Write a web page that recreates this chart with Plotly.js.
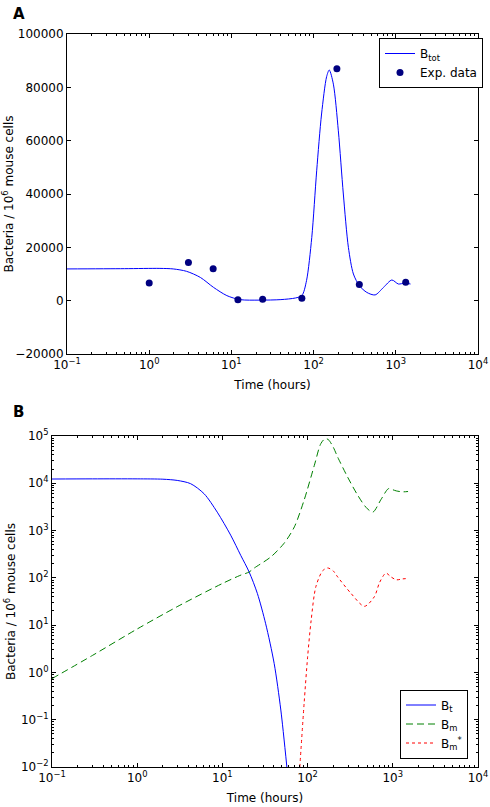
<!DOCTYPE html>
<html>
<head>
<meta charset="utf-8">
<script src="https://cdn.plot.ly/plotly-3.0.1.min.js"></script>
<style>html,body{margin:0;padding:0;background:#fff;}#chart{width:490px;height:807px;}</style>
</head>
<body>
<div id="chart"></div>
<script>
// ---------- Panel A: total bacteria (model) and experimental data ----------
const btotTime = [0.1, 0.5, 1.35, 1.96, 2.85, 4.2, 6.05, 8.8, 12.7, 22, 40, 60, 72, 82, 95, 109, 125, 144, 155, 174, 200, 230, 265, 305, 361, 444, 560, 710, 895, 1075, 1290, 1510];
const btotValue = [11900, 12000, 12100, 11900, 11000, 8700, 5000, 1900, 400, 200, 400, 1000, 1900, 7500, 23700, 48700, 70000, 84000, 86500, 81200, 63700, 40000, 20000, 10000, 5600, 3100, 2150, 5000, 7750, 6250, 6600, 6250];
const expTime = [1, 3, 6, 12, 24, 72, 192, 360, 1320];
const expValue = [6600, 14300, 12000, 300, 500, 900, 87000, 6100, 6900];
const yLinTickVals = [-20000, 0, 20000, 40000, 60000, 80000, 100000];
const yLinTickText = ['−20000', '0', '20000', '40000', '60000', '80000', '100000'];

// ---------- Panel B: model compartments (log scale) ----------
const btTime = [0.1, 0.3, 1, 2, 2.95, 4.24, 6.1, 8.7, 12.5, 16.4, 20.6, 25.7, 32.2, 40.5, 48.5, 57.1];
const btValue = [12300, 12400, 12400, 12200, 11500, 9800, 6000, 2450, 800, 300, 133, 47, 10.7, 1.55, 0.16, 0.01];
const bmTime = [0.1, 0.3, 1, 3, 10, 16, 20.6, 23.5, 37, 53, 70, 91, 120, 143, 161, 175, 200, 225, 295, 387, 485, 582, 730, 890, 1000, 1100, 1300, 1510];
const bmValue = [0.74, 2.3, 8.3, 25, 76, 112, 133, 160, 277, 540, 1200, 4400, 24000, 69000, 88000, 84000, 58000, 36000, 13500, 5600, 3100, 2450, 4600, 7700, 7300, 6900, 6600, 6700];
const bmsTime = [81, 91, 100, 110, 125, 150, 172, 200, 225, 323, 464, 608, 700, 830, 950, 1100, 1300, 1510];
const bmsValue = [0.01, 0.22, 2.1, 12.6, 65, 141, 162, 140, 105, 47, 25, 40, 80, 126, 105, 91, 95, 97];

const logTickVals = [0.1, 1, 10, 100, 1000, 10000];
const logTickText = ['10<sup>−1</sup>', '10<sup>0</sup>', '10<sup>1</sup>', '10<sup>2</sup>', '10<sup>3</sup>', '10<sup>4</sup>'];
const yLogTickVals = [0.01, 0.1, 1, 10, 100, 1000, 10000, 100000];
const yLogTickText = ['10<sup>−2</sup>', '10<sup>−1</sup>', '10<sup>0</sup>', '10<sup>1</sup>', '10<sup>2</sup>', '10<sup>3</sup>', '10<sup>4</sup>', '10<sup>5</sup>'];

function minorLogTicks(lo, hi) {
  const out = [];
  for (let e = lo; e < hi; e++) for (let d = 2; d <= 9; d++) out.push(d * Math.pow(10, e));
  return out;
}

const W = 490, H = 807;
const font = {family: 'DejaVu Sans, sans-serif', size: 12, color: '#000'};
const legFont = {family: 'DejaVu Sans, sans-serif', size: 12, color: '#000'};

const traces = [
  {x: btotTime, y: btotValue, type: 'scatter', mode: 'lines', name: 'B<sub>tot</sub>',
   line: {color: '#0000ff', width: 1, shape: 'spline', smoothing: 0.8}, xaxis: 'x', yaxis: 'y', legend: 'legend'},
  {x: expTime, y: expValue, type: 'scatter', mode: 'markers', name: 'Exp. data',
   marker: {color: '#000080', size: 7}, xaxis: 'x', yaxis: 'y', legend: 'legend'},
  {x: btTime, y: btValue, type: 'scatter', mode: 'lines', name: 'B<sub>t</sub>',
   line: {color: '#0000ff', width: 1, shape: 'spline', smoothing: 0.8}, xaxis: 'x2', yaxis: 'y2', legend: 'legend2'},
  {x: bmTime, y: bmValue, type: 'scatter', mode: 'lines', name: 'B<sub>m</sub>',
   line: {color: '#008000', width: 1, dash: '7px,4px', shape: 'spline', smoothing: 0.8}, xaxis: 'x2', yaxis: 'y2', legend: 'legend2'},
  {x: bmsTime, y: bmsValue, type: 'scatter', mode: 'lines', name: 'B<sub>m</sub><sup>*</sup>',
   line: {color: '#ff0000', width: 1, dash: 'dot', shape: 'spline', smoothing: 0.8}, xaxis: 'x2', yaxis: 'y2', legend: 'legend2'}
];

const common = {
  showline: true, linecolor: '#000', linewidth: 1, mirror: 'allticks',
  ticks: 'inside', ticklen: 4, tickcolor: '#000', tickwidth: 1,
  showgrid: false, zeroline: false, tickfont: font
};

const layout = {
  width: W, height: H,
  margin: {l: 0, r: 0, t: 0, b: 0},
  paper_bgcolor: '#fff', plot_bgcolor: '#fff',
  font: font,
  xaxis: Object.assign({}, common, {
    type: 'log', range: [-1, 4], domain: [67 / W, 478 / W], anchor: 'y',
    tickmode: 'array', tickvals: logTickVals, ticktext: logTickText,
    minor: {tickmode: 'array', tickvals: minorLogTicks(-1, 4), ticks: 'inside', ticklen: 2, tickcolor: '#000', showgrid: false},
    title: {text: 'Time (hours)', font: font, standoff: 9}
  }),
  yaxis: Object.assign({}, common, {
    range: [-20000, 100000], domain: [1 - 354 / H, 1 - 34 / H], anchor: 'x',
    tickmode: 'array', tickvals: yLinTickVals, ticktext: yLinTickText,
    title: {text: 'Bacteria / 10<sup>6</sup> mouse cells', font: font, standoff: 6}
  }),
  xaxis2: Object.assign({}, common, {
    type: 'log', range: [-1, 4], domain: [52 / W, 478 / W], anchor: 'y2',
    tickmode: 'array', tickvals: logTickVals, ticktext: logTickText,
    minor: {tickmode: 'array', tickvals: minorLogTicks(-1, 4), ticks: 'inside', ticklen: 2, tickcolor: '#000', showgrid: false},
    title: {text: 'Time (hours)', font: font, standoff: 9}
  }),
  yaxis2: Object.assign({}, common, {
    type: 'log', range: [-2, 5], domain: [1 - 767 / H, 1 - 436 / H], anchor: 'x2',
    tickmode: 'array', tickvals: yLogTickVals, ticktext: yLogTickText,
    minor: {tickmode: 'array', tickvals: minorLogTicks(-2, 5), ticks: 'inside', ticklen: 2, tickcolor: '#000', showgrid: false},
    title: {text: 'Bacteria / 10<sup>6</sup> mouse cells', font: font, standoff: 2}
  }),
  legend: {
    x: 379 / W, y: 1 - 63 / H, xanchor: 'left', yanchor: 'middle',
    bordercolor: '#000', borderwidth: 1, bgcolor: '#fff',
    font: legFont, tracegroupgap: 0
  },
  legend2: {
    x: 400 / W, y: 1 - 724 / H, xanchor: 'left', yanchor: 'middle',
    bordercolor: '#000', borderwidth: 1, bgcolor: '#fff',
    font: legFont, tracegroupgap: 0
  },
  annotations: [
    {text: '<b>A</b>', x: 11 / W, y: 1 - 3 / H, xref: 'paper', yref: 'paper', xanchor: 'left', yanchor: 'top', showarrow: false,
     font: {family: 'DejaVu Sans, sans-serif', size: 15, color: '#000'}},
    {text: '<b>B</b>', x: 11 / W, y: 1 - 401 / H, xref: 'paper', yref: 'paper', xanchor: 'left', yanchor: 'top', showarrow: false,
     font: {family: 'DejaVu Sans, sans-serif', size: 15, color: '#000'}}
  ],
  showlegend: true
};

Plotly.newPlot('chart', traces, layout, {staticPlot: true, displayModeBar: false});
</script>
</body>
</html>
